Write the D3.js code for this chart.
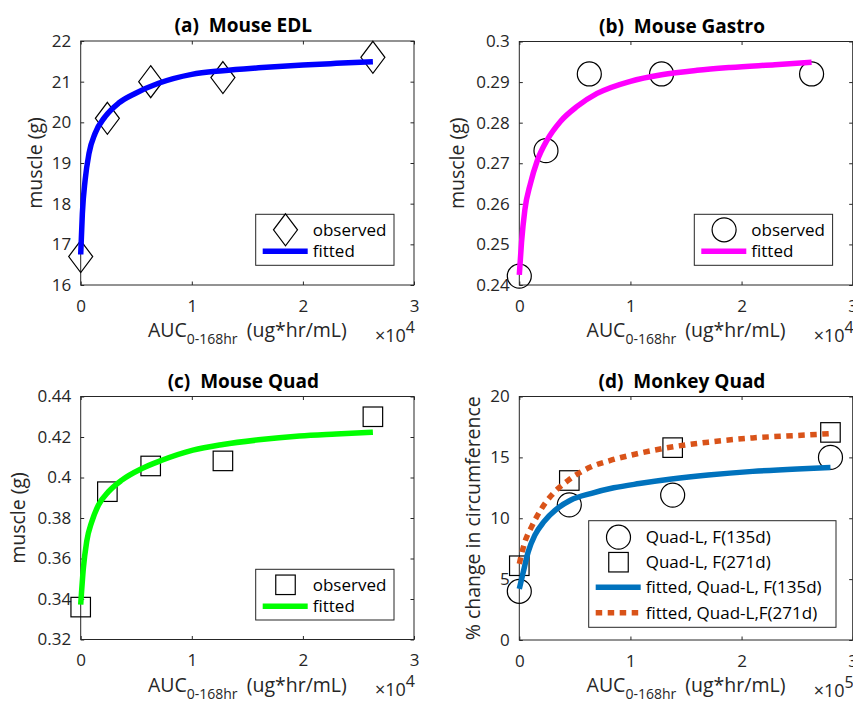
<!DOCTYPE html>
<html>
<head>
<meta charset="utf-8">
<script src="https://cdn.jsdelivr.net/npm/d3@7"></script>
<style>
  body { margin: 0; background: #fff; }
  svg { display: block; font-family: "Open Sans", sans-serif; }
</style>
</head>
<body>
<div id="chart"></div>
<script>
// Tick values
var xTicks = [0, 1, 2, 3];
var edlTicks = [16, 17, 18, 19, 20, 21, 22];
var gastroTicks = [0.24, 0.25, 0.26, 0.27, 0.28, 0.29, 0.3];
var quadTicks = [0.32, 0.34, 0.36, 0.38, 0.4, 0.42, 0.44];
var monkeyTicks = [0, 5, 10, 15, 20];

// Mouse observed (AUC in 10^4 ug*hr/mL)
var mouseAuc = [0, 0.24, 0.63, 1.28, 2.63];
var edlObserved = [16.7, 20.1, 21.0, 21.1, 21.6];
var gastroObserved = [0.2422, 0.2731, 0.292, 0.292, 0.292];
var quadObserved = [0.336, 0.393, 0.4057, 0.4082, 0.430];

// Mouse fitted curves
var edlFitAuc = [0, 0.015, 0.04, 0.075, 0.13, 0.22, 0.34, 0.49, 0.7, 1.0, 1.28, 1.6, 2.0, 2.3, 2.63];
var edlFitted = [16.75, 17.76, 18.58, 19.24, 19.73, 20.14, 20.47, 20.71, 20.96, 21.18, 21.27, 21.34, 21.41, 21.45, 21.49];
var gastroFitAuc = [0, 0.02, 0.05, 0.1, 0.16, 0.25, 0.37, 0.52, 0.7, 1.0, 1.28, 1.6, 1.9, 2.3, 2.63];
var gastroFitted = [0.2425, 0.2505, 0.2585, 0.2650, 0.2705, 0.2757, 0.2803, 0.2840, 0.2872, 0.2902, 0.2918, 0.2929, 0.2936, 0.2943, 0.2949];
var quadFitAuc = [0, 0.024, 0.054, 0.1, 0.16, 0.25, 0.37, 0.55, 0.73, 1.01, 1.28, 1.6, 1.97, 2.3, 2.63];
var quadFitted = [0.3372, 0.3552, 0.3684, 0.3782, 0.3864, 0.3930, 0.3987, 0.4044, 0.4085, 0.4135, 0.4163, 0.4186, 0.4205, 0.4215, 0.4224];

// Monkey (AUC in 10^5 ug*hr/mL)
var monkeyAuc = [0, 0.45, 1.38, 2.8];
var quad135Observed = [4.0, 11.1, 11.9, 15.0];
var quad271Observed = [6.1, 13.1, 15.8, 17.05];
var fit135Auc = [0, 0.036, 0.08, 0.14, 0.22, 0.34, 0.46, 0.65, 0.85, 1.08, 1.37, 1.7, 2.1, 2.5, 2.8];
var fit135 = [4.2, 5.6, 7.24, 8.61, 9.7, 10.79, 11.48, 12.05, 12.5, 12.85, 13.22, 13.55, 13.85, 14.05, 14.16];
var fit271Auc = [0, 0.05, 0.11, 0.2, 0.29, 0.44, 0.64, 0.82, 1.06, 1.37, 1.7, 2.1, 2.5, 2.8];
var fit271 = [6.25, 8.06, 9.29, 10.79, 11.89, 13.11, 14.2, 14.75, 15.3, 15.85, 16.25, 16.6, 16.8, 16.95];

var svgWidth = 853;
var svgHeight = 703;
var ink = "#262626";

var svg = d3.select("#chart")
  .append("svg")
  .attr("width", svgWidth)
  .attr("height", svgHeight);

// marker drawing
function drawMarker(g, shape, cx, cy) {
  if (shape === "diamond") {
    g.append("path")
      .attr("d", `M${cx},${cy - 16}L${cx + 12},${cy}L${cx},${cy + 16}L${cx - 12},${cy}Z`)
      .attr("fill", "none").attr("stroke", "#000").attr("stroke-width", 1.2);
  } else if (shape === "circle") {
    g.append("circle")
      .attr("cx", cx).attr("cy", cy).attr("r", 12)
      .attr("fill", "none").attr("stroke", "#000").attr("stroke-width", 1.2);
  } else {
    g.append("rect")
      .attr("x", cx - 9.75).attr("y", cy - 9.75)
      .attr("width", 19.5).attr("height", 19.5)
      .attr("fill", "none").attr("stroke", "#000").attr("stroke-width", 1.2);
  }
}

function fmt(v) { return String(+v.toFixed(2)); }

function drawPanel(p) {
  var w = p.right - p.left;
  var h = p.bottom - p.top;
  var g = svg.append("g").attr("transform", `translate(${p.left}, ${p.top})`);

  var x = d3.scaleLinear().domain([0, 3]).range([0, w]);
  var y = d3.scaleLinear().domain(p.yDomain).range([h, 0]);

  // axes (ticks point inward, mirrored on top/right)
  var bottom = g.append("g").attr("transform", `translate(0, ${h})`)
    .call(d3.axisBottom(x).tickValues(xTicks).tickSizeInner(-3.5).tickSizeOuter(0).tickPadding(14.5).tickFormat(d3.format("d")));
  var left = g.append("g")
    .call(d3.axisLeft(y).tickValues(p.yTicks).tickSizeInner(-3.5).tickSizeOuter(0).tickPadding(9.5).tickFormat(fmt));
  var top = g.append("g")
    .call(d3.axisTop(x).tickValues(xTicks).tickSizeInner(-3.5).tickSizeOuter(0).tickFormat(""));
  var right = g.append("g").attr("transform", `translate(${w}, 0)`)
    .call(d3.axisRight(y).tickValues(p.yTicks).tickSizeInner(-3.5).tickSizeOuter(0).tickFormat(""));

  [bottom, left, top, right].forEach(function(a) {
    a.select(".domain").remove();
    a.selectAll("line").attr("stroke", ink);
    a.selectAll("text").attr("fill", ink).attr("font-size", "17px").attr("font-family", "Open Sans");
  });

  g.append("rect")
    .attr("width", w).attr("height", h)
    .attr("fill", "none").attr("stroke", ink).attr("stroke-width", 1);

  // observed markers
  p.observed.forEach(function(s) {
    s.x.forEach(function(xv, i) {
      drawMarker(g, s.shape, x(xv), y(s.y[i]));
    });
  });

  // fitted lines
  var line = d3.line().x(d => x(d[0])).y(d => y(d[1])).curve(d3.curveMonotoneX);
  p.fitted.forEach(function(s) {
    var path = g.append("path")
      .datum(s.x.map((xv, i) => [xv, s.y[i]]))
      .attr("d", line)
      .attr("fill", "none")
      .attr("stroke", s.color)
      .attr("stroke-width", 5.5)
      .attr("stroke-linejoin", "round");
    if (s.dotted) path.attr("stroke-dasharray", "6.5,5.5");
  });

  // title
  g.append("text")
    .attr("x", w / 2 - 4).attr("y", -9)
    .attr("text-anchor", "middle")
    .attr("font-size", "19px").attr("font-weight", "bold").attr("fill", "#000")
    .text(p.title);

  // x label
  var xl = g.append("text")
    .attr("x", w / 2).attr("y", h + 52)
    .attr("text-anchor", "middle")
    .attr("font-size", "19.5px").attr("fill", ink);
  xl.append("tspan").text("AUC");
  xl.append("tspan").attr("font-size", "14px").attr("dy", 7).text("0-168hr");
  xl.append("tspan").attr("dy", -7).attr("dx", 4).text("\u00a0(ug*hr/mL)");

  var ex = g.append("text")
    .attr("x", w + 1).attr("y", h + 56.5)
    .attr("text-anchor", "end")
    .attr("font-size", "18px").attr("fill", ink);
  ex.append("tspan").text("\u00d710");
  ex.append("tspan").attr("font-size", "16px").attr("dy", -9).text(p.exponent);

  // y label
  g.append("text")
    .attr("transform", `translate(${p.yLabelX}, ${h / 2}) rotate(-90)`)
    .attr("text-anchor", "middle")
    .attr("font-size", "19.5px").attr("fill", ink)
    .text(p.yLabel);

  // legend
  var lg = g.append("g").attr("transform", `translate(${p.legend.x - p.left}, ${p.legend.y - p.top})`);
  lg.append("rect")
    .attr("width", p.legend.w).attr("height", p.legend.h)
    .attr("fill", "#fff").attr("stroke", ink).attr("stroke-width", 1);
  p.legend.items.forEach(function(it) {
    if (it.shape) {
      drawMarker(lg, it.shape, 29.8, it.cy);
    } else {
      var ln = lg.append("line")
        .attr("x1", 7).attr("x2", 52).attr("y1", it.cy).attr("y2", it.cy)
        .attr("stroke", it.color).attr("stroke-width", 5.5);
      if (it.dotted) ln.attr("stroke-dasharray", "6.5,5.5").attr("x2", 50);
    }
    lg.append("text")
      .attr("x", 57).attr("y", it.cy).attr("dy", "0.36em")
      .attr("font-size", "17px").attr("fill", "#000")
      .text(it.label);
  });
}

drawPanel({
  left: 80.7, right: 414, top: 41, bottom: 285,
  yDomain: [16, 22], yTicks: edlTicks,
  title: "(a)\u00a0\u00a0Mouse EDL", yLabel: "muscle (g)", yLabelX: -39, exponent: "4",
  observed: [{ shape: "diamond", x: mouseAuc, y: edlObserved }],
  fitted: [{ color: "#0000ff", x: edlFitAuc, y: edlFitted }],
  legend: { x: 255.7, y: 214.3, w: 138.3, h: 51, items: [
    { shape: "diamond", cy: 15.5, label: "observed" },
    { color: "#0000ff", cy: 37, label: "fitted" }
  ] }
});

drawPanel({
  left: 519.3, right: 852.7, top: 41.5, bottom: 285,
  yDomain: [0.24, 0.3], yTicks: gastroTicks,
  title: "(b)\u00a0\u00a0Mouse Gastro", yLabel: "muscle (g)", yLabelX: -55, exponent: "4",
  observed: [{ shape: "circle", x: mouseAuc, y: gastroObserved }],
  fitted: [{ color: "#ff00ff", x: gastroFitAuc, y: gastroFitted }],
  legend: { x: 694.3, y: 214.3, w: 138.3, h: 51, items: [
    { shape: "circle", cy: 15.5, label: "observed" },
    { color: "#ff00ff", cy: 37, label: "fitted" }
  ] }
});

drawPanel({
  left: 80.7, right: 414, top: 396.5, bottom: 639.5,
  yDomain: [0.32, 0.44], yTicks: quadTicks,
  title: "(c)\u00a0\u00a0Mouse Quad", yLabel: "muscle (g)", yLabelX: -55.5, exponent: "4",
  observed: [{ shape: "square", x: mouseAuc, y: quadObserved }],
  fitted: [{ color: "#00ff00", x: quadFitAuc, y: quadFitted }],
  legend: { x: 255.7, y: 569.3, w: 138.3, h: 50.7, items: [
    { shape: "square", cy: 15.5, label: "observed" },
    { color: "#00ff00", cy: 37, label: "fitted" }
  ] }
});

drawPanel({
  left: 519.3, right: 852.7, top: 396.5, bottom: 640,
  yDomain: [0, 20], yTicks: monkeyTicks,
  title: "(d)\u00a0\u00a0Monkey Quad", yLabel: "% change in circumference", yLabelX: -39.5, exponent: "5",
  observed: [
    { shape: "circle", x: monkeyAuc, y: quad135Observed },
    { shape: "square", x: monkeyAuc, y: quad271Observed }
  ],
  fitted: [
    { color: "#0072bd", x: fit135Auc, y: fit135 },
    { color: "#d95319", x: fit271Auc, y: fit271, dotted: true }
  ],
  legend: { x: 588.7, y: 520.7, w: 247.3, h: 106.6, items: [
    { shape: "circle", cy: 16.5, label: "Quad-L, F(135d)" },
    { shape: "square", cy: 41.5, label: "Quad-L, F(271d)" },
    { color: "#0072bd", cy: 66.5, label: "fitted, Quad-L, F(135d)" },
    { color: "#d95319", cy: 92, label: "fitted, Quad-L,F(271d)", dotted: true }
  ] }
});
</script>
</body>
</html>
